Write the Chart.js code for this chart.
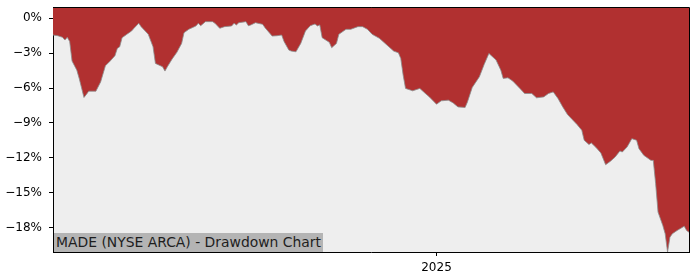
<!DOCTYPE html>
<html lang="en">
  <head>
    <meta charset="UTF-8" />
    <title>MADE (NYSE ARCA) - Drawdown Chart</title>
    <script src="https://cdn.jsdelivr.net/npm/chart.js"></script>
    <style>
      body {
        margin: 0;
        background: #ffffff;
        font-family: "DejaVu Sans", sans-serif;
      }

      .wrap {
        position: relative;
        width: 700px;
        height: 280px;
      }

      /* caption box in the lower left of the plot */
      .caption {
        position: absolute;
        left: 54px;
        top: 233px;
        height: 19px;
        line-height: 19px;
        padding: 0 2px;
        background: #b4b4b4;
        color: #1e1e1e;
        font-size: 13.9px;
        white-space: nowrap;
      }
    </style>
  </head>
  <body>
    <div class="wrap">
      <canvas id="ddChart" width="700" height="280"></canvas>
      <div class="caption">MADE (NYSE ARCA) - Drawdown Chart</div>
    </div>

    <script>
      // days since 2024-07-24
      const dayOffsets = [
        0, 2, 4, 5, 6, 7, 8, 10, 11, 13, 14, 15, 18, 20, 22, 24, 26, 27, 28,
        29, 31, 33, 34, 36, 37, 40, 42, 43, 46, 47, 48, 50, 52, 54, 55, 57,
        60, 61, 62, 64, 67, 68, 70, 72, 75, 76, 77, 78, 81, 82, 83, 85, 88,
        89, 92, 94, 96, 97, 99, 100, 102, 104, 106, 108, 110, 111, 112, 113,
        116, 117, 119, 120, 123, 125, 128, 130, 132, 134, 137, 141, 143, 145,
        146, 147, 148, 151, 154, 156, 158, 161, 163, 166, 168, 170, 173, 174,
        176, 179, 181, 183, 186, 188, 189, 191, 193, 196, 198, 201, 203, 206,
        208, 210, 212, 214, 216, 218, 220, 222, 223, 225, 226, 228, 230, 232,
        234, 236, 238, 239, 241, 243, 245, 246, 248, 251, 252, 253, 254, 256,
        257, 258, 259, 260, 262, 265, 266, 267,
      ];

      // drawdown in percent
      const drawdown = [
        -1.44, -1.5, -1.64, -1.87, -1.64, -2.0, -3.68, -4.46, -5.17, -6.81,
        -6.55, -6.27, -6.27, -5.47, -4.09, -3.68, -3.22, -2.59, -2.45, -1.67,
        -1.38, -1.09, -0.86, -0.43, -0.72, -1.38, -2.45, -3.88, -4.17, -4.54,
        -4.17, -3.51, -2.93, -2.16, -1.24, -0.95, -0.66, -0.43, -0.64, -0.29,
        -0.29, -0.43, -0.86, -0.72, -0.66, -0.43, -0.57, -0.38, -0.29, -0.64,
        -0.58, -0.38, -0.52, -0.81, -1.53, -1.5, -1.44, -2.0, -2.73, -2.82,
        -2.88, -2.16, -1.09, -0.64, -0.49, -0.66, -0.57, -1.67, -2.07, -2.53,
        -2.16, -1.38, -0.95, -0.95, -0.72, -0.72, -0.95, -1.38, -1.72, -2.45,
        -2.82, -2.97, -3.45, -4.89, -6.03, -6.24, -6.03, -6.41, -6.76, -7.39,
        -7.1, -7.04, -7.28, -7.62, -7.67, -7.19, -5.95, -5.03, -3.97, -3.02,
        -3.59, -4.46, -5.17, -5.12, -5.4, -6.03, -6.47, -6.47, -6.84, -6.76,
        -6.47, -6.33, -6.9, -7.62, -8.28, -8.71, -9.14, -9.63, -10.49, -10.86,
        -10.72, -11.12, -11.58, -12.59, -12.3, -11.93, -11.41, -11.5, -11.07,
        -10.35, -10.49, -11.21, -11.78, -12.22, -12.22, -14.22, -16.67, -17.82,
        -18.53, -20.1, -18.83, -18.53, -18.25, -17.88, -18.25, -18.4,
      ];

      const yTicks = [0, -3, -6, -9, -12, -15, -18];
      const xTickDays = [161];
      const xTickLabels = ["2025"];

      const points = dayOffsets.map((d, i) => ({ x: d, y: drawdown[i] }));

      // grey plot background + top/right spines
      const frame = {
        id: "frame",
        beforeDraw(chart) {
          const { ctx, chartArea: a } = chart;
          ctx.save();
          ctx.fillStyle = "#eeeeee";
          ctx.fillRect(a.left, a.top, a.right - a.left, a.bottom - a.top);
          ctx.restore();
        },
        afterDraw(chart) {
          const { ctx, chartArea: a } = chart;
          ctx.save();
          ctx.strokeStyle = "#000";
          ctx.lineWidth = 1;
          ctx.beginPath();
          ctx.moveTo(a.left, a.top + 0.5);
          ctx.lineTo(a.right + 0.5, a.top + 0.5);
          ctx.lineTo(a.right + 0.5, a.bottom);
          ctx.stroke();
          ctx.restore();
        },
      };

      const tickFont = { family: "DejaVu Sans", size: 12 };

      new Chart(document.getElementById("ddChart"), {
        type: "line",
        data: {
          datasets: [
            {
              data: points,
              borderColor: "rgba(140, 140, 140, 0.8)",
              borderWidth: 1,
              backgroundColor: "#b13030",
              fill: "end",
              pointRadius: 0,
              tension: 0,
            },
          ],
        },
        options: {
          responsive: false,
          devicePixelRatio: 1,
          animation: false,
          layout: { padding: { top: 7, right: 11, left: 0, bottom: 0 } },
          plugins: {
            legend: { display: false },
            tooltip: { enabled: false },
          },
          scales: {
            x: {
              type: "linear",
              min: 0,
              max: 267,
              afterFit: (s) => {
                s.height = 28;
                s.paddingLeft = 0;
                s.paddingRight = 0;
              },
              afterBuildTicks: (s) => {
                s.ticks = xTickDays.map((v) => ({ value: v }));
              },
              ticks: {
                color: "#000",
                font: tickFont,
                padding: 5,
                maxRotation: 0,
                callback: (v) => xTickLabels[xTickDays.indexOf(v)] || "",
              },
              grid: {
                drawOnChartArea: false,
                tickLength: 4,
                color: "#000",
              },
              border: { color: "#000", width: 1 },
            },
            y: {
              min: -20.1,
              max: 0.97,
              afterFit: (s) => {
                s.width = 53;
                s.paddingTop = 0;
                s.paddingBottom = 0;
              },
              afterBuildTicks: (s) => {
                s.ticks = yTicks.map((v) => ({ value: v }));
              },
              ticks: {
                color: "#000",
                font: tickFont,
                padding: 7,
                callback: (v) => (v < 0 ? "\u2212" + Math.abs(v) : v) + "%",
              },
              grid: {
                drawOnChartArea: false,
                tickLength: 4,
                color: "#000",
              },
              border: { color: "#000", width: 1 },
            },
          },
        },
        plugins: [frame],
      });
    </script>
  </body>
</html>
